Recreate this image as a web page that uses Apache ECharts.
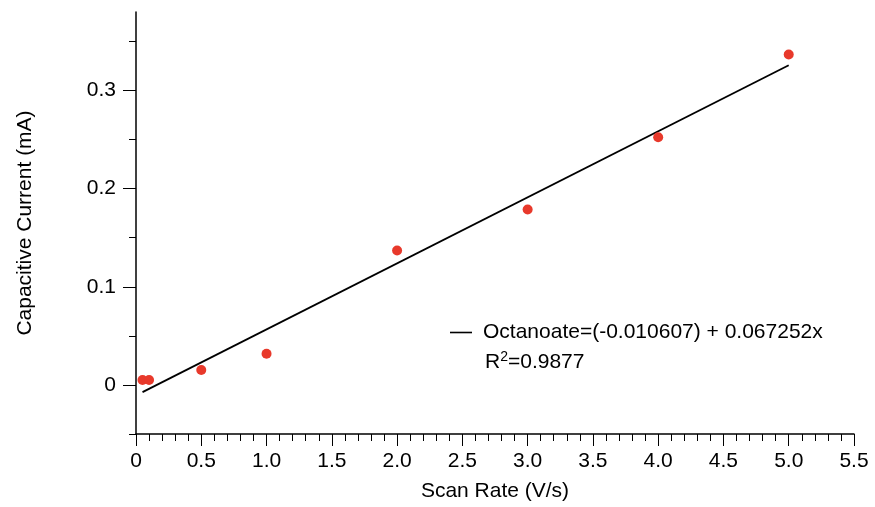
<!DOCTYPE html>
<html>
<head>
<meta charset="utf-8">
<script src="https://cdn.jsdelivr.net/npm/echarts@6/dist/echarts.min.js"></script>
<style>html,body{margin:0;padding:0;background:#fff}#c{width:875px;height:507px}</style>
</head>
<body>
<div id="c"></div>
<script>
// Measured scan rates (V/s) and capacitive currents (mA)
var scanRates = [0.05, 0.1, 0.5, 1.0, 2.0, 3.0, 4.0, 5.0];
var currents  = [0.005, 0.005, 0.0153, 0.0318, 0.137, 0.1787, 0.2523, 0.3367];
// Linear fit line as drawn (endpoints)
var fitX = [0.05, 5.0];
var fitY = [-0.0073, 0.3257];
var fitLabel = 'Octanoate=(-0.010607) + 0.067252x';
var r2Value = '0.9877';
// Axis ticks
var yMajorTicks = [0, 0.1, 0.2, 0.3];
var yMinorTicks = [-0.05, 0.05, 0.15, 0.25, 0.35];

var FONT = 'Liberation Sans, Arial, Helvetica, sans-serif';
var FS = 21;
var chart = echarts.init(document.getElementById('c'), null, {renderer: 'canvas'});

var pts = scanRates.map(function (x, i) { return [x, currents[i]]; });
var fit = fitX.map(function (x, i) { return [x, fitY[i]]; });

chart.setOption({
  animation: false,
  backgroundColor: '#fff',
  grid: {left: 136, right: 21, top: 12, bottom: 72, containLabel: false},
  legend: {
    data: [fitLabel],
    left: 450, top: 322, padding: 0,
    icon: 'rect', itemWidth: 22, itemHeight: 1.6, itemGap: 0,
    textStyle: {fontFamily: FONT, fontSize: FS, color: '#000', padding: [0, 0, 0, 6]},
    selectedMode: false
  },
  graphic: [{
    type: 'text',
    left: 485, top: 350,
    style: {
      rich: {
        a: {fontFamily: FONT, fontSize: FS, fill: '#000'},
        s: {fontFamily: FONT, fontSize: 14, fill: '#000', verticalAlign: 'top', padding: [0, 0, 10, 0]}
      },
      text: '{a|R}{s|2}{a|=' + r2Value + '}'
    }
  }],
  xAxis: {
    type: 'value', min: 0, max: 5.5, interval: 0.5,
    name: 'Scan Rate (V/s)', nameLocation: 'middle', nameGap: 47,
    nameTextStyle: {fontFamily: FONT, fontSize: FS, color: '#000'},
    axisLine: {show: true, onZero: false, lineStyle: {color: '#000', width: 1.5}},
    axisTick: {show: true, length: 12, lineStyle: {color: '#000', width: 1}},
    minorTick: {show: true, splitNumber: 5, length: 7, lineStyle: {color: '#000', width: 1}},
    axisLabel: {fontFamily: FONT, fontSize: FS, color: '#000', margin: 17,
      formatter: function (v) { return v === 0 ? '0' : v.toFixed(1); }},
    splitLine: {show: false}
  },
  yAxis: [{
    type: 'value', min: -0.05, max: 0.38, position: 'left',
    name: 'Capacitive Current (mA)', nameLocation: 'middle', nameGap: 100,
    nameTextStyle: {fontFamily: FONT, fontSize: FS, color: '#000'},
    axisLine: {show: true, onZero: false, lineStyle: {color: '#000', width: 1.5}},
    axisTick: {show: true, length: 13, customValues: yMajorTicks, lineStyle: {color: '#000', width: 1}},
    axisLabel: {fontFamily: FONT, fontSize: FS, color: '#000', margin: 20, customValues: yMajorTicks,
      formatter: function (v) { return v === 0 ? '0' : v.toFixed(1); }},
    splitLine: {show: false}
  }, {
    type: 'value', min: -0.05, max: 0.38, position: 'left', offset: 0,
    axisLine: {show: false},
    axisTick: {show: true, length: 7, customValues: yMinorTicks, lineStyle: {color: '#000', width: 1}},
    axisLabel: {show: false},
    splitLine: {show: false}
  }],
  series: [{
    name: fitLabel,
    type: 'line',
    data: fit,
    showSymbol: false, symbol: 'none',
    lineStyle: {color: '#000', width: 1.8},
    itemStyle: {color: '#000'},
    z: 2
  }, {
    name: 'data',
    type: 'scatter',
    data: pts,
    symbolSize: 10,
    itemStyle: {color: '#e8392b', opacity: 1},
    z: 3
  }]
});
</script>
</body>
</html>
